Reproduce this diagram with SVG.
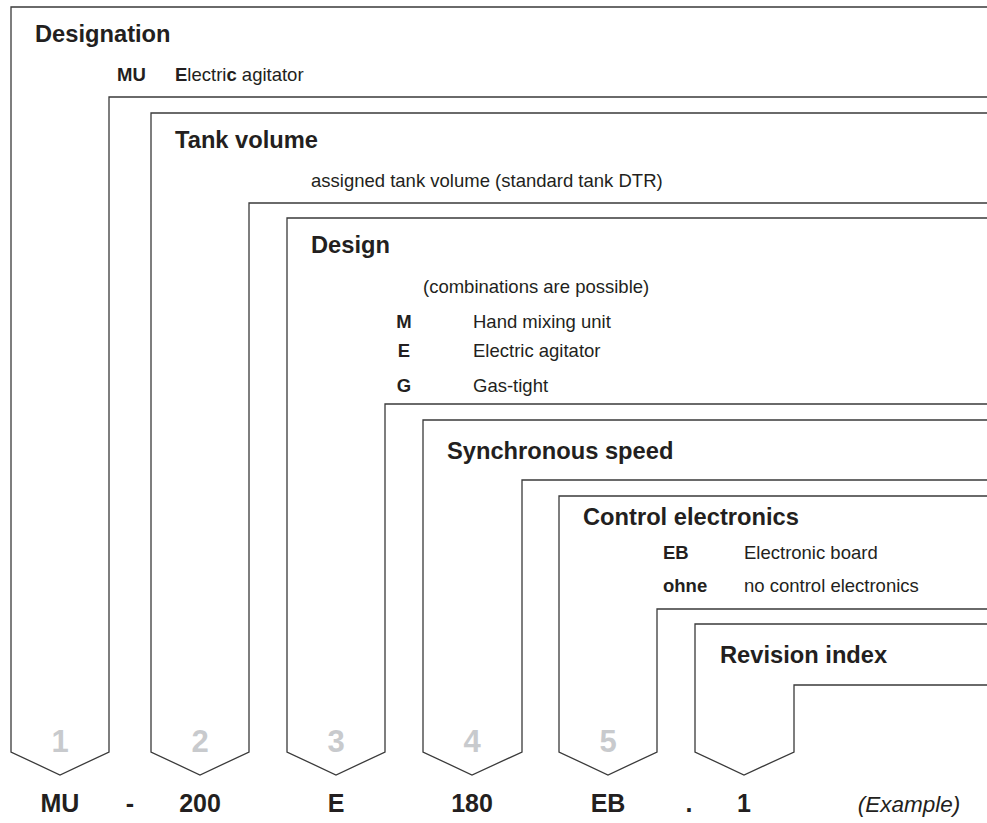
<svg xmlns="http://www.w3.org/2000/svg" width="987" height="823" viewBox="0 0 987 823">
<style>
.frame{fill:none;stroke:#3a3a3a;stroke-width:1.3;stroke-linejoin:miter}
text{font-family:"Liberation Sans",Arial,sans-serif;fill:#231f20}
.h{font-size:23.7px;font-weight:bold}
.s{font-size:18.5px}
.b{font-weight:bold}
.num{font-size:31px;font-weight:bold;fill:#c8cacd;text-anchor:middle}
.code{font-size:25px;font-weight:bold;text-anchor:middle}
.ex{font-size:22.5px;font-style:italic;text-anchor:middle}
</style>
<rect width="987" height="823" fill="#ffffff"/>
<g id="connectors">
<path class="frame" d="M987,7 H11 V752 L60,775 L109,752 V97 H987"/>
<path class="frame" d="M987,113 H151 V752 L200,775 L249,752 V203 H987"/>
<path class="frame" d="M987,218 H287 V752 L336,775 L385,752 V404 H987"/>
<path class="frame" d="M987,420 H423 V752 L472,775 L522,752 V480 H987"/>
<path class="frame" d="M987,496 H559 V752 L608,775 L657,752 V609 H987"/>
<path class="frame" d="M987,624 H695 V752 L744,775 L794,752 V685 H987"/>
</g>
<g id="designation">
<text class="h" x="35" y="42">Designation</text>
<text class="s b" x="117" y="81">MU</text>
<text class="s" x="175" y="81"><tspan class="b">E</tspan>lectri<tspan class="b">c</tspan> agitator</text>
<text class="num" x="60" y="752">1</text>
</g>
<g id="tank-volume">
<text class="h" x="175" y="148">Tank volume</text>
<text class="s" x="311" y="187">assigned tank volume (standard tank DTR)</text>
<text class="num" x="200" y="752">2</text>
</g>
<g id="design">
<text class="h" x="311" y="253">Design</text>
<text class="s" x="423" y="293">(combinations are possible)</text>
<text class="s b" x="404" y="328" text-anchor="middle">M</text>
<text class="s" x="473" y="328">Hand mixing unit</text>
<text class="s b" x="404" y="357" text-anchor="middle">E</text>
<text class="s" x="473" y="357">Electric agitator</text>
<text class="s b" x="404" y="392" text-anchor="middle">G</text>
<text class="s" x="473" y="392">Gas-tight</text>
<text class="num" x="336" y="752">3</text>
</g>
<g id="synchronous-speed">
<text class="h" x="447" y="459">Synchronous speed</text>
<text class="num" x="472" y="752">4</text>
</g>
<g id="control-electronics">
<text class="h" x="583" y="525">Control electronics</text>
<text class="s b" x="663" y="559">EB</text>
<text class="s" x="744" y="559">Electronic board</text>
<text class="s b" x="663" y="592">ohne</text>
<text class="s" x="744" y="592">no control electronics</text>
<text class="num" x="608" y="752">5</text>
</g>
<g id="revision-index">
<text class="h" x="720" y="663">Revision index</text>
</g>
<g id="example">
<text class="code" x="60" y="812">MU</text>
<text class="code" x="130" y="812">-</text>
<text class="code" x="200" y="812">200</text>
<text class="code" x="336" y="812">E</text>
<text class="code" x="472" y="812">180</text>
<text class="code" x="608" y="812">EB</text>
<text class="code" x="689" y="812">.</text>
<text class="code" x="744" y="812">1</text>
<text class="ex" x="909" y="812">(Example)</text>
</g>
</svg>
